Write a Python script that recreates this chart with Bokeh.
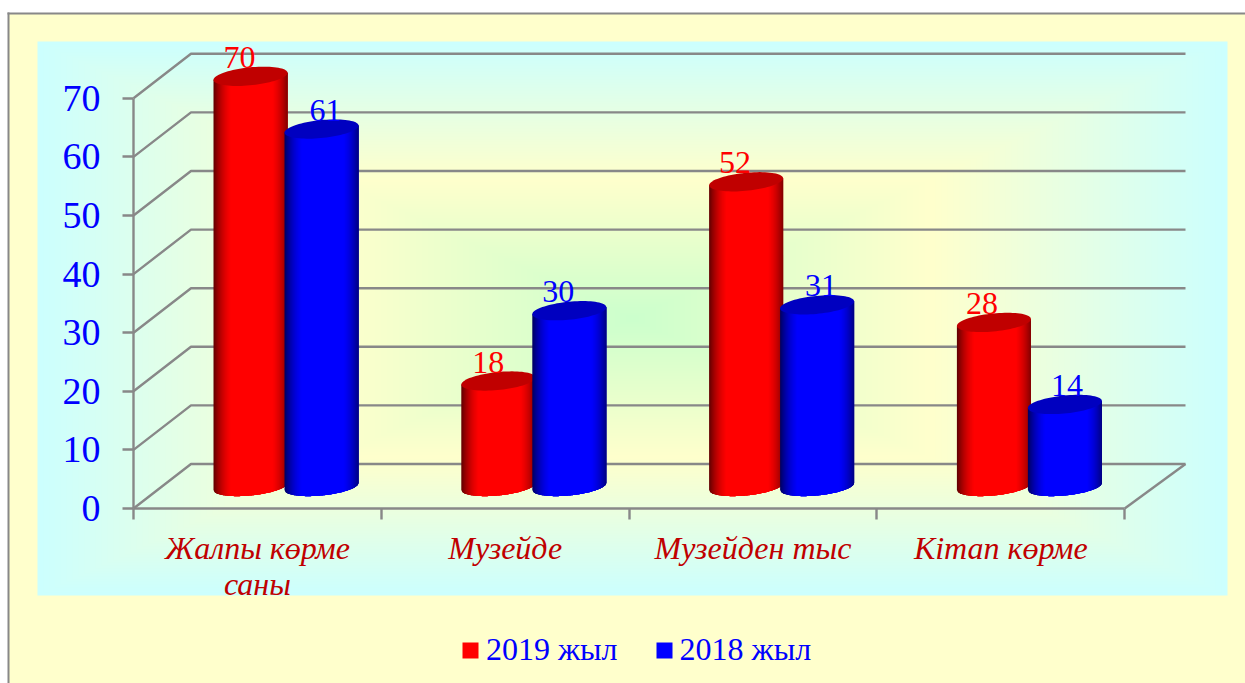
import numpy as np
from bokeh.plotting import figure
from bokeh.models import (FixedTicker, Legend, LegendItem, LinearAxis, Range1d)
from bokeh.core.properties import value
from bokeh.embed import file_html
from bokeh.resources import INLINE

categories = ["Жалпы көрме\nсаны", "Музейде", "Музейден тыс", "Кітап көрме"]
series_2019 = [70, 18, 52, 28]
series_2018 = [61, 30, 31, 14]
y_ticks = [0, 10, 20, 30, 40, 50, 60, 70]
series_names = ["2019 жыл", "2018 жыл"]

W, H = 1245, 683
X0, Y0 = 133.0, 508.0      # page position of the axes origin
PX_X, PX_Y = 247.8, 5.86   # pixels per category / per value unit
FONT = "Liberation Serif"

def dx(px):  # page x -> data
    return (px - X0) / PX_X
def dy(py):  # page y -> data
    return (Y0 - py) / PX_Y

p = figure(width=W, height=H, output_backend="svg", toolbar_location=None,
           x_range=Range1d(dx(0), dx(W)), y_range=Range1d(dy(H), dy(0)),
           x_axis_type=None, y_axis_type=None, min_border=0,
           background_fill_color="white", border_fill_color="white", outline_line_color=None)
p.grid.visible = False

# outer panel
p.quad(left=[dx(8)], right=[dx(W + 5)], top=[dy(12.5)], bottom=[dy(H + 5)],
       fill_color="#FFFFCC", line_color=None)
p.segment(x0=[dx(8), dx(7)], y0=[dy(H), dy(13)], x1=[dx(8), dx(W)], y1=[dy(12), dy(13)],
          line_color="#888888", line_width=2)

# plot-area gradient (rectangular path gradient)
L, R, T, B = 37.0, 1227.0, 41.0, 595.0
ny, nx = int(B - T), int(R - L)
gx, gy = np.meshgrid(np.arange(nx) + L + .5, B - np.arange(ny) - .5)
t = np.maximum(np.abs(gx - 632) / 595, np.abs(gy - 318) / 277)
stops_t = [0, 0.5, 1.0]
stops_c = [(0xCC, 0xFF, 0xCC), (0xFF, 0xFF, 0xCC), (0xCC, 0xFF, 0xFF)]
ch = [np.interp(t, stops_t, [c[k] for c in stops_c]).astype(np.uint32) for k in range(3)]
rgba = np.full((ny, nx), 0xFF000000, dtype=np.uint32) | ch[0] | (ch[1] << 8) | (ch[2] << 16)
p.image_rgba(image=[rgba], x=dx(L), y=dy(B), dw=dx(R) - dx(L), dh=dy(T) - dy(B))

# 3D walls: back grid lines and depth lines
DX, DY = 57.5, 44.5
xs_g, ys_g = [], []
for v in y_ticks:
    xs_g.append([0, dx(X0 + DX), dx(1185)])
    ys_g.append([v, v + DY / PX_Y, v + DY / PX_Y])
xs_g.append([4, dx(1185)])
ys_g.append([0, DY / PX_Y])
p.multi_line(xs_g, ys_g, line_color="#888888", line_width=2.4)

# cylinders
def shade(u, base):
    k = 1 - np.abs(u) ** 3.2 * 0.55 - 0.12 * (u < 0) * u ** 2
    k = float(np.clip(k * 1.12, 0, 1))
    c = int(255 * k)
    return "#%02x0000" % c if base == "r" else "#0000%02x" % c

BASE_PX = 22.0
A_R, B_R, S_R = 37.0, 9.0, 3.5
xs_c, ys_c, col_c = [], [], []
def cylinder(cx_px, v, base):
    cyb = BASE_PX
    cyt = BASE_PX + v * PX_Y
    n = 74
    edges = np.linspace(-1, 1, n + 1)
    for a, b in zip(edges[:-1], edges[1:]):
        # each strip runs a little under the next one, so that no seams show
        fine = np.linspace(a, min(1.0, b + 3 * (b - a)), 5)
        upper = cyt + S_R * fine[::-1]
        lower = cyb + S_R * fine - B_R * np.sqrt(np.clip(1 - fine ** 2, 0, 1))
        px = np.concatenate([fine, fine[::-1]]) * A_R + cx_px
        py = np.concatenate([lower, upper])
        xs_c.append((px / PX_X).tolist())
        ys_c.append((py / PX_Y).tolist())
        col_c.append(shade((a + b) / 2, base))
    th = np.linspace(0, 2 * np.pi, 80)
    xs_c.append(((cx_px + A_R * np.cos(th)) / PX_X).tolist())
    ys_c.append(((cyt + S_R * np.cos(th) + B_R * np.sin(th)) / PX_Y).tolist())
    col_c.append("#C00000" if base == "r" else "#0000C0")

RED_OFF, BLUE_OFF = 117.0, 188.0
for i in range(len(categories)):
    cylinder(i * PX_X + RED_OFF, series_2019[i], "r")
    cylinder(i * PX_X + BLUE_OFF, series_2018[i], "b")
p.patches(xs_c, ys_c, fill_color=col_c, line_color=None)

# value labels
lab_off_r = [-11, -10, -11, -12]
lab_off_b = [4, -11, 4, 2]
idx = np.arange(len(categories))
p.text(x=(idx * PX_X + RED_OFF + np.array(lab_off_r)) / PX_X,
       y=(BASE_PX + np.array(series_2019) * PX_Y + 8.5) / PX_Y,
       text=[str(v) for v in series_2019], text_color="#FF0000", text_font=value(FONT),
       text_font_size="32px", text_align="center", text_baseline="bottom")
p.text(x=(idx * PX_X + BLUE_OFF + np.array(lab_off_b)) / PX_X,
       y=(BASE_PX + np.array(series_2018) * PX_Y + 8.5) / PX_Y,
       text=[str(v) for v in series_2018], text_color="#0000FF", text_font=value(FONT),
       text_font_size="32px", text_align="center", text_baseline="bottom")

# axes
ya = LinearAxis(ticker=FixedTicker(ticks=y_ticks), fixed_location=0, bounds=(0, 70))
ya.axis_line_color = "#888888"; ya.axis_line_width = 2.4
ya.major_tick_line_color = "#888888"; ya.major_tick_line_width = 2.4
ya.major_tick_in = 0; ya.major_tick_out = 11; ya.minor_tick_line_color = None
ya.major_label_standoff = 22
ya.major_label_text_font = FONT; ya.major_label_text_font_size = "38px"
ya.major_label_text_color = "#0000FF"
p.add_layout(ya, "left")

xa = LinearAxis(ticker=FixedTicker(ticks=list(range(len(categories) + 1))), fixed_location=0, bounds=(0, 4))
xa.axis_line_color = "#888888"; xa.axis_line_width = 2.4
xa.major_tick_line_color = "#888888"; xa.major_tick_line_width = 2.4
xa.major_tick_in = 0; xa.major_tick_out = 11; xa.minor_tick_line_color = None
xa.major_label_overrides = {i: "" for i in range(len(categories) + 1)}
p.add_layout(xa, "below")

xb = LinearAxis(ticker=FixedTicker(ticks=[i + 0.5 for i in range(len(categories))]), fixed_location=0)
xb.axis_line_color = None; xb.major_tick_line_color = None; xb.minor_tick_line_color = None
xb.major_tick_in = 0; xb.major_tick_out = 0
xb.major_label_overrides = {i + 0.5: c for i, c in enumerate(categories)}
xb.major_label_standoff = 21
xb.major_label_text_font = FONT; xb.major_label_text_font_size = "32px"
xb.major_label_text_font_style = "italic"; xb.major_label_text_color = "#C00000"
xb.major_label_text_line_height = 1.0
p.add_layout(xb, "below")

# legend
nan = [float("nan")]
r1 = p.quad(left=nan, right=nan, top=nan, bottom=nan, fill_color="#FF0000", line_color=None)
r2 = p.quad(left=nan, right=nan, top=nan, bottom=nan, fill_color="#0000FF", line_color=None)
leg = Legend(items=[LegendItem(label=series_names[0], renderers=[r1], index=0),
                    LegendItem(label=series_names[1], renderers=[r2], index=0)],
             orientation="horizontal", location=(460, 15),
             background_fill_alpha=0, border_line_color=None, padding=0, margin=0,
             glyph_width=20, glyph_height=20, label_standoff=6, spacing=36,
             label_text_font=FONT, label_text_font_size="32px", label_text_color="#0000FF")
p.add_layout(leg)

open("out.html", "w").write(file_html(p, INLINE))
